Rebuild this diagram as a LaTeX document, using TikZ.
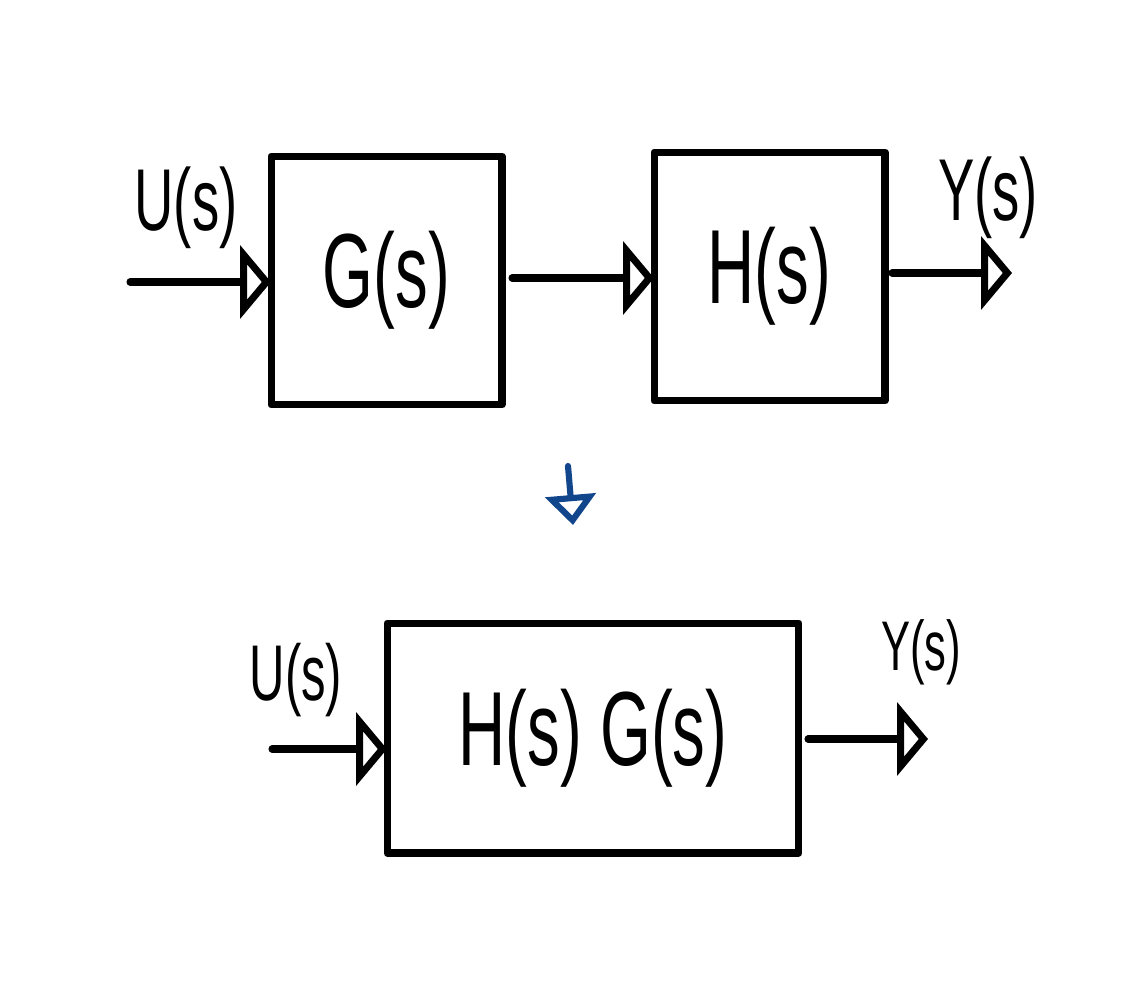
\documentclass[tikz,border=0pt]{standalone}
\usepackage{fontspec}
\newfontfamily\hand[FakeStretch=0.62]{Liberation Sans}
\usetikzlibrary{arrows.meta}
\definecolor{penblue}{RGB}{18,70,140}
\begin{document}
\begin{tikzpicture}[x=0.02cm,y=-0.02cm,line width=4pt,line join=round,line cap=round,
  blk/.style={draw,inner sep=0pt,outer sep=0pt,font=\hand\fontsize{60}{60}\selectfont},
  arr/.style={-{Triangle[open,length=0.62cm,width=1.45cm]}},
  lbl/.style={inner sep=0pt,font=\hand\fontsize{#1}{#1}\selectfont},
  lbl/.default=50]
\path[use as bounding box] (0,0) rectangle (1148,1000);
% top row
\node[blk,minimum width=4.62cm,minimum height=4.98cm] (G) at (386.5,280.5) {G(s)};
\node[blk,minimum width=4.62cm,minimum height=4.98cm] (H) at (769.5,276.5) {H(s)};
\coordinate (in1) at (130,282);
\coordinate (m1) at (512,278);
\coordinate (out1) at (1012,273);
\draw[arr] (in1) -- (in1 -| G.west);
\draw[arr] (m1) -- (m1 -| H.west);
\draw[arr,shorten <=7*0.02cm] (H.east |- out1) -- (out1);
\node[lbl=50] (U1) at (186,208) {U(s)};
\node[lbl=50] (Y1) at (988,198) {Y(s)};
% transition arrow
\coordinate (b1) at (568,466);
\coordinate (b2) at (573,525);
\draw[penblue,line width=3.5pt,-{Triangle[open,length=0.6cm,width=1.0cm]}] (b1) -- (b2);
% bottom row
\node[blk,minimum width=8.24cm,minimum height=4.6cm] (B) at (593,738) {H(s) G(s)};
\coordinate (in2) at (272,749);
\coordinate (out2) at (928,739);
\draw[arr] (in2) -- (in2 -| B.west);
\draw[arr,shorten <=9*0.02cm] (B.east |- out2) -- (out2);
\node[lbl=45] (U2) at (296,680) {U(s)};
\node[lbl=40] (Y2) at (921,652) {Y(s)};
\end{tikzpicture}
\end{document}
